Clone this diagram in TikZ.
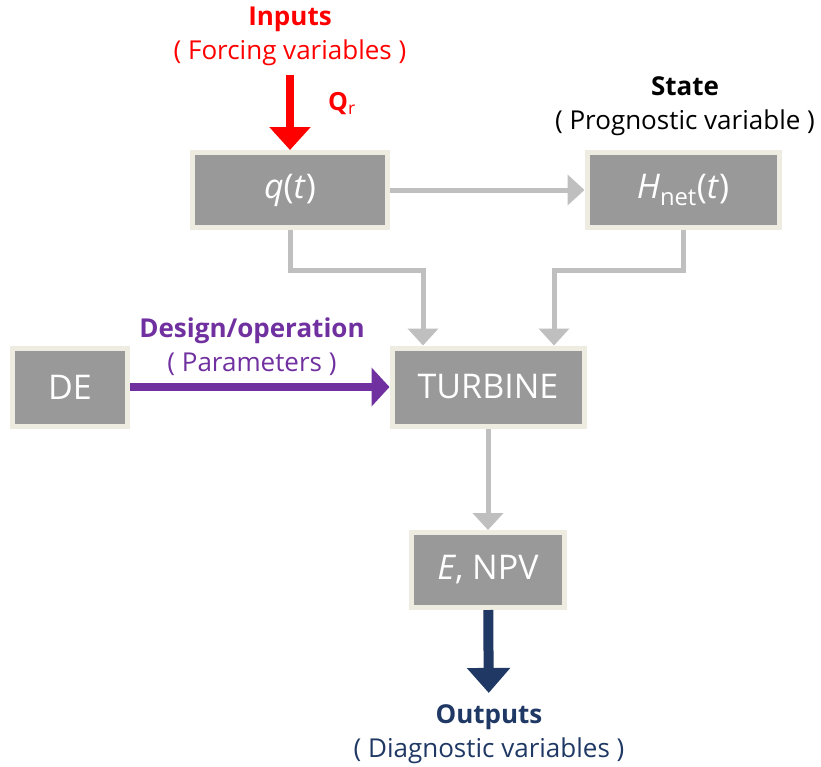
\documentclass[tikz,border=0pt]{standalone}
\usepackage{fontspec}
\setmainfont{Open Sans}
\usetikzlibrary{arrows.meta}
\definecolor{boxgray}{HTML}{999999}
\definecolor{boxrim}{HTML}{EEECE1}
\definecolor{linkgray}{HTML}{BFBFBF}
\definecolor{inred}{HTML}{FF0000}
\definecolor{parpurple}{HTML}{7030A0}
\definecolor{outnavy}{HTML}{1F3864}
\begin{document}
\begin{tikzpicture}[x=1pt, y=-1pt,
    block/.style={draw=boxrim, line width=5pt, fill=boxgray, text=white,
      minimum height=75pt, font=\fontsize{34}{38}\selectfont},
    lbl/.style={align=center, font=\fontsize{26}{34}\selectfont},
    link/.style={draw=linkgray, line width=5pt, -{Triangle[length=17pt,width=30pt]}},
  ]
  \useasboundingbox (0,0) rectangle (821,766);
  % boxes
  \node[block, minimum width=195pt] (qt) at (290,190) {\textit{q}(\textit{t})};
  \node[block, minimum width=192pt] (hnet) at (683,190) {\textit{H}\textsubscript{net}(\textit{t})};
  \node[block, minimum width=115pt, minimum height=78pt] (de) at (70,387) {DE};
  \node[block, minimum width=192pt, minimum height=78pt] (turb) at (488,387) {TURBINE};
  \node[block, minimum width=153pt] (enpv) at (488,570) {\textit{E}, NPV};
  % labels
  \node[lbl, text=inred] (inp) at (290,36) {\textbf{Inputs}\\( Forcing variables )};
  \node[lbl] (state) at (685,106) {\textbf{State}\\( Prognostic variable )};
  \node[lbl, text=parpurple] (par) at (252,347) {\textbf{Design/operation}\\( Parameters )};
  \node[lbl, text=outnavy] (outp) at (489,734) {\textbf{Outputs}\\( Diagnostic variables )};
  \node[text=inred, font=\fontsize{25}{30}\selectfont] (qr) at (342,104) {\textbf{Q}\textsubscript{r}};
  % links
  \draw[line width=8pt, inred, shorten <=6pt, -{Triangle[length=23pt,width=40pt]}] (inp) -- (qt);
  \draw[link] (qt) -- (hnet);
  \draw[link] (qt.south) -- ++(0,40) -| ([xshift=-65pt]turb.north);
  \draw[link] (hnet.south) -- ++(0,40) -| ([xshift=66pt]turb.north);
  \draw[line width=8pt, parpurple, -{Triangle[length=18pt,width=38pt]}] (de) -- (turb);
  \draw[link] (turb) -- (enpv);
  \draw[line width=10pt, outnavy, shorten >=8pt, -{Triangle[length=25pt,width=42pt]}] (enpv) -- (outp);
\end{tikzpicture}
\end{document}
